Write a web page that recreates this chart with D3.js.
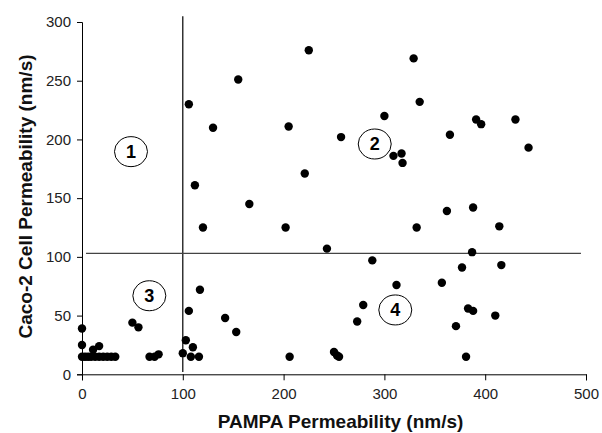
<!DOCTYPE html>
<html><head><meta charset="utf-8">
<script src="https://cdn.jsdelivr.net/npm/d3@7"></script>
<style>body{margin:0;background:#fff}svg{display:block}</style>
</head><body>
<svg id="c" width="602" height="433"></svg>
<script>
const pampa = [106,155,130,205,112,166,225,329,335,300,257,391,396,430,365,443,309,317,318,221,362,388,120,202,332,414,243,387,
  288,312,279,273,250,253,255,357,377,416,383,388,410,371,381,206,153,142,117,106,103,110,100,108,116,67,72,76,50,56,0,0,17,11,0,3,6,9,13,17,21,25,29,33];
const caco2 = [230,251,210,211,161,145,276,269,232,220,202,217,213,217,204,193,186,188,180,171,139,142,125,125,125,126,107,104,
  97,76,59,45,19,16,15,78,91,93,56,54,50,41,15,15,36,48,72,54,29,23,18,15,15,15,15,17,44,40,39,25,24,21,15,15,15,15,15,15,15,15,15,15];
const xTicks = [0,100,200,300,400,500];
const yTicks = [0,50,100,150,200,250,300];
const regionLabels = ["1","2","3","4"];
const regionX = [48.6,290.4,66.8,310.8];
const regionY = [189.6,196.1,66.9,54.8];
const cutX = 100, cutY = 103;

const svg = d3.select("#c");
const x = d3.scaleLinear().domain([0,500]).range([82,586]);
const y = d3.scaleLinear().domain([0,300]).range([374.3,22]);
const FONT = "Liberation Sans, Arial, sans-serif";

// axes
const xa = svg.append("g").attr("transform","translate(0,374.3)")
  .call(d3.axisBottom(x).tickValues(xTicks).tickSize(6).tickPadding(8));
const ya = svg.append("g").attr("transform","translate(82,0)")
  .call(d3.axisLeft(y).tickValues(yTicks).tickSize(5).tickPadding(6));
[xa,ya].forEach(a=>{
  a.select(".domain").attr("stroke","#000").attr("stroke-width",1);
  a.selectAll(".tick line").attr("stroke","#000");
  a.selectAll("text").attr("font-family",FONT).attr("font-size",15).attr("fill","#222");
});

// divider lines
svg.append("line").attr("x1",x(cutX)).attr("x2",x(cutX)).attr("y1",y(305)).attr("y2",y(2))
  .attr("stroke","#000").attr("stroke-width",1.2);
svg.append("line").attr("x1",x(4)).attr("x2",x(495)).attr("y1",y(cutY)).attr("y2",y(cutY))
  .attr("stroke","#444").attr("stroke-width",1.2);

// points
svg.append("g").selectAll("circle").data(pampa.map((p,i)=>[p,caco2[i]])).join("circle")
  .attr("cx",d=>x(d[0])).attr("cy",d=>y(d[1])).attr("r",4.2).attr("fill","#000");

// region labels
const rg = svg.append("g").selectAll("g").data(regionLabels).join("g")
  .attr("transform",(d,i)=>`translate(${x(regionX[i])},${y(regionY[i])})`);
rg.append("ellipse").attr("rx",16.5).attr("ry",15).attr("fill","#fff").attr("stroke","#000").attr("stroke-width",1);
rg.append("text").text(d=>d).attr("text-anchor","middle").attr("dy","0.36em")
  .attr("font-family",FONT).attr("font-weight","bold").attr("font-size",18);

// titles
svg.append("text").attr("x",340.5).attr("y",428).attr("text-anchor","middle")
  .attr("font-family",FONT).attr("font-weight","bold").attr("font-size",19)
  .attr("fill","#111").text("PAMPA Permeability (nm/s)");
svg.append("text").attr("transform","translate(32,196.5) rotate(-90)").attr("text-anchor","middle")
  .attr("font-family",FONT).attr("font-weight","bold").attr("font-size",19)
  .attr("fill","#111").text("Caco-2 Cell Permeability (nm/s)");
</script>
</body></html>
